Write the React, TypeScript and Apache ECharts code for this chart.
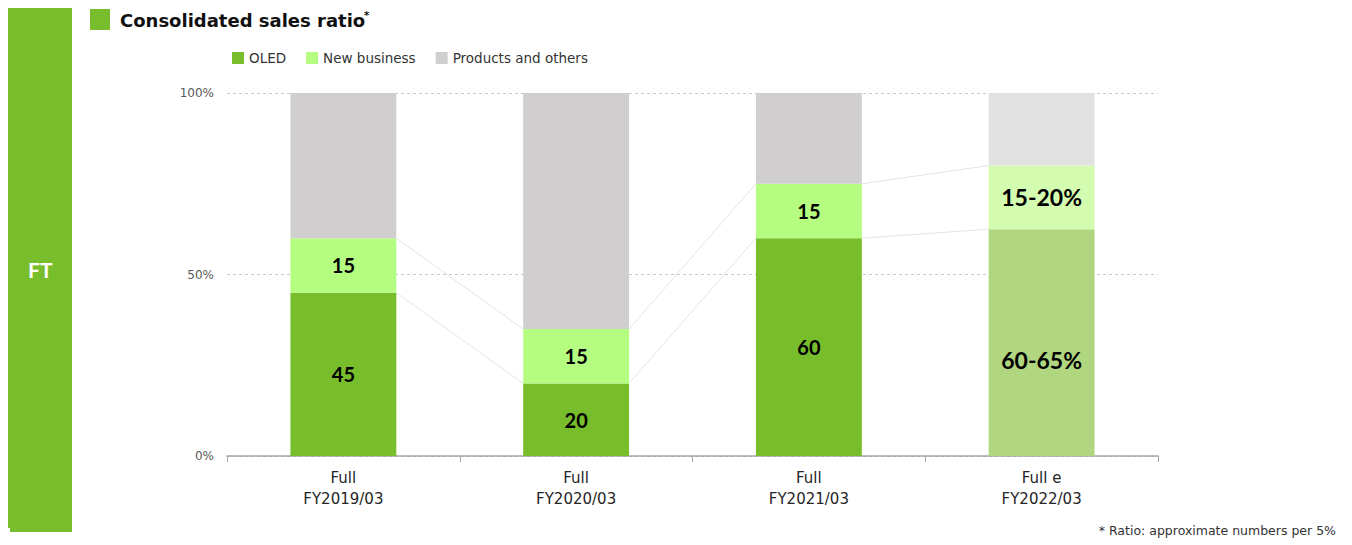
import React, { useEffect, useRef } from "react";
import * as echarts from "echarts";

// Fiscal periods and their sales composition (percent of consolidated sales)
const periods = ["Full\nFY2019/03", "Full\nFY2020/03", "Full\nFY2021/03", "Full e\nFY2022/03"];
const oled = [45, 20, 60, 62.5];
const newBusiness = [15, 15, 15, 17.5];
const productsOthers = [40, 65, 25, 20];
const oledLabels = ["45", "20", "60", "60-65%"];
const newBusinessLabels = ["15", "15", "15", "15-20%"];
const yTicks = [0, 50, 100];

const FONT = "'DejaVu Sans', 'Noto Sans', sans-serif";
const NUM_FONT = "Lato, 'Noto Sans', sans-serif";
const GREEN = "#78be2c";
const LIGHT_GREEN = "#b5fd80";
const GREY = "#d0cecf";
// the forecast period is drawn in paler tones
const EST_GREEN = "#b0d680";
const EST_LIGHT_GREEN = "#d4fcb0";
const EST_GREY = "#e2e1e2";

const lastIdx = periods.length - 1;

export default function App() {
  const ref = useRef<HTMLDivElement>(null);

  useEffect(() => {
    if (!ref.current) return;
    const chart = echarts.init(ref.current, null, { renderer: "svg" });

    const barWidthRatio = 0.455;

    const option: echarts.EChartsOption = {
      animation: false,
      textStyle: { fontFamily: FONT },
      legend: {
        data: ["OLED", "New business", "Products and others"],
        left: 227,
        top: 46,
        itemWidth: 12,
        itemHeight: 12,
        itemGap: 20,
        icon: "rect",
        textStyle: { fontFamily: FONT, fontSize: 13.5, color: "#333" },
      },
      grid: { left: 227, right: 194, top: 93, bottom: 89 },
      xAxis: {
        type: "category",
        data: periods,
        boundaryGap: true,
        axisLine: { lineStyle: { color: "#a6a6a6", width: 1.5 } },
        axisTick: { show: true, length: 6, lineStyle: { color: "#a6a6a6" } },
        axisLabel: {
          color: "#262626",
          fontSize: 15,
          fontFamily: FONT,
          lineHeight: 21,
          margin: 11,
        },
      },
      yAxis: {
        type: "value",
        min: 0,
        max: 100,
        interval: 50,
        axisLine: { show: false },
        axisTick: { show: false },
        axisLabel: {
          formatter: (v: number) => (yTicks.includes(v) ? v + "%" : ""),
          color: "#595959",
          fontSize: 12,
          fontFamily: FONT,
          margin: 13,
        },
        splitLine: { lineStyle: { color: "#c8c8c8", type: [3, 3] } },
      },
      series: [
        {
          name: "OLED",
          type: "bar",
          stack: "total",
          barWidth: barWidthRatio * 100 + "%",
          itemStyle: { color: GREEN },
          data: oled.map((v, i) => ({
            value: v,
            itemStyle: { color: i === lastIdx ? EST_GREEN : GREEN },
            label: i === lastIdx ? { fontSize: 23, offset: [0, 17] } : undefined,
          })),
          label: {
            show: true,
            position: "inside",
            color: "#000",
            fontWeight: "bold",
            fontSize: 20,
            fontFamily: NUM_FONT,
            formatter: (p: any) => oledLabels[p.dataIndex],
          },
        },
        {
          name: "New business",
          type: "bar",
          stack: "total",
          itemStyle: { color: LIGHT_GREEN },
          data: newBusiness.map((v, i) => ({
            value: v,
            itemStyle: { color: i === lastIdx ? EST_LIGHT_GREEN : LIGHT_GREEN },
            label: i === lastIdx ? { fontSize: 23 } : undefined,
          })),
          label: {
            show: true,
            position: "inside",
            color: "#000",
            fontWeight: "bold",
            fontSize: 20,
            fontFamily: NUM_FONT,
            formatter: (p: any) => newBusinessLabels[p.dataIndex],
          },
        },
        {
          name: "Products and others",
          type: "bar",
          stack: "total",
          itemStyle: { color: GREY },
          data: productsOthers.map((v, i) => ({
            value: v,
            itemStyle: { color: i === lastIdx ? EST_GREY : GREY },
          })),
        },
        {
          // thin connectors joining segment tops of neighbouring bars
          type: "custom",
          silent: true,
          z: 1,
          data: periods.slice(0, lastIdx).map((_, i) => [i, 0]),
          encode: { x: 0, y: 1 },
          renderItem: (params: any, api: any) => {
            const i = params.dataIndex;
            const band = api.size([1, 0])[0];
            const half = (band * barWidthRatio) / 2;
            const tops = (k: number) => [oled[k], oled[k] + newBusiness[k]];
            const a = tops(i);
            const b = tops(i + 1);
            const children = a.map((va, j) => {
              const p1 = api.coord([i, va]);
              const p2 = api.coord([i + 1, b[j]]);
              return {
                type: "line",
                shape: { x1: p1[0] + half, y1: p1[1], x2: p2[0] - half, y2: p2[1] },
                style: { stroke: "#dcdcdc", lineWidth: 0.8 },
              };
            });
            return { type: "group", children };
          },
        } as any,
      ],
      graphic: [
        { type: "rect", left: 10, top: 8, shape: { width: 62, height: 524 }, style: { fill: GREEN } },
        { type: "rect", left: 8, top: 8, shape: { width: 3, height: 520 }, style: { fill: GREEN } },
        {
          type: "text",
          left: 28,
          top: 259,
          style: { text: "FT", fill: "#fff", font: `bold 21px ${NUM_FONT}` },
        },
        { type: "rect", left: 90, top: 9, shape: { width: 20, height: 21 }, style: { fill: GREEN } },
        {
          type: "text",
          left: 120,
          top: 11,
          style: { text: "Consolidated sales ratio", fill: "#111", font: `bold 18px ${FONT}` },
        },
        {
          type: "text",
          left: 364,
          top: 10,
          style: { text: "*", fill: "#111", font: `bold 10px ${FONT}` },
        },
        {
          type: "text",
          right: 16,
          top: 524,
          style: { text: "* Ratio: approximate numbers per 5%", fill: "#333", font: `12.5px ${FONT}` },
        },
      ],
    };

    chart.setOption(option);
    return () => chart.dispose();
  }, []);

  return (
    <div
      ref={ref}
      style={{ position: "fixed", left: 0, top: 0, width: 1352, height: 545, background: "#fff" }}
    />
  );
}
